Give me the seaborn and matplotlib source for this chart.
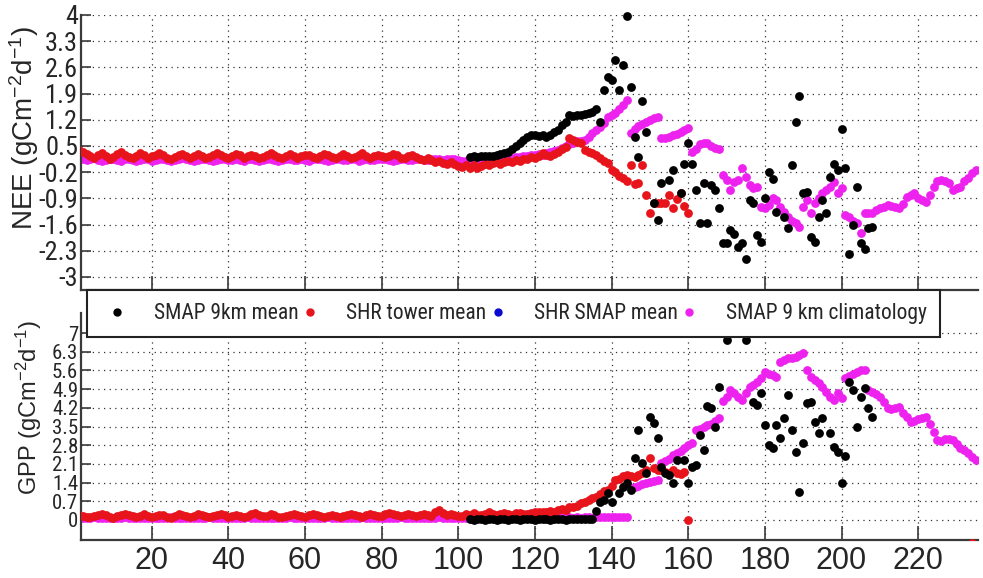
import numpy as np
import pandas as pd
import seaborn as sns
import matplotlib.pyplot as plt
from matplotlib import font_manager as fm
from matplotlib.lines import Line2D

sns.set_style("white")


def find_narrow():
    # a narrow face for the tick labels / legend, if one is installed
    entries = fm.fontManager.ttflist
    for name in ['Liberation Sans Narrow', 'Roboto Condensed', 'Open Sans Condensed',
                 'Noto Sans Condensed', 'DejaVu Sans Condensed']:
        if any(e.name == name for e in entries):
            return name, 'normal', True
    for name in ['DejaVu Sans', 'Noto Sans', 'Roboto', 'Open Sans']:
        if any(e.name == name and str(e.stretch) in ('condensed', 'semi-condensed', 'extra-condensed')
               for e in entries):
            return name, 'condensed', True
    return 'Liberation Sans', 'normal', False


narrow_family, narrow_stretch, has_narrow = find_narrow()
plt.rcParams['font.family'] = [narrow_family, 'DejaVu Sans']
plt.rcParams['font.stretch'] = narrow_stretch
plt.rcParams['mathtext.fontset'] = 'custom'
plt.rcParams['mathtext.rm'] = 'Liberation Sans'
plt.rcParams['mathtext.it'] = 'Liberation Sans:italic'
plt.rcParams['mathtext.bf'] = 'Liberation Sans:bold'

# ---------------- data ----------------
# SHR tower mean, days 1-160
red_nee = [
    0.40, 0.33, 0.28, 0.22, 0.18, 0.26, 0.31, 0.24, 0.15, 0.20,
    0.28, 0.33, 0.27, 0.21, 0.17, 0.23, 0.30, 0.26, 0.19, 0.22,
    0.27, 0.31, 0.25, 0.18, 0.14, 0.20, 0.26, 0.29, 0.24, 0.19,
    0.23, 0.28, 0.22, 0.17, 0.21, 0.27, 0.32, 0.26, 0.20, 0.18,
    0.24, 0.29, 0.25, 0.19, 0.22, 0.27, 0.23, 0.18, 0.21, 0.26,
    0.30, 0.25, 0.20, 0.17, 0.22, 0.28, 0.24, 0.19, 0.23, 0.27,
    0.25, 0.20, 0.18, 0.23, 0.29, 0.26, 0.21, 0.19, 0.24, 0.28,
    0.22, 0.18, 0.21, 0.26, 0.30, 0.24, 0.19, 0.22, 0.27, 0.23,
    0.20, 0.24, 0.28, 0.25, 0.19, 0.17, 0.22, 0.26, 0.21, 0.16,
    0.13, 0.18, 0.12, 0.08, 0.10, 0.05, 0.02, 0.06, 0.01, -0.03,
    -0.05, 0.00, -0.08, -0.02, -0.10, -0.04, 0.02, -0.01, 0.05, 0.08,
    0.03, 0.06, 0.10, 0.07, 0.13, 0.11, 0.16, 0.14, 0.20, 0.17,
    0.24, 0.30, 0.26, 0.22, 0.28, 0.35, 0.42, 0.48, 0.71, 0.66,
    0.60, 0.57, 0.40, 0.35, 0.30, 0.27, 0.18, 0.10, 0.04, -0.14,
    -0.20, -0.30, -0.36, -0.44, 0.00, -0.53, -0.49, 0.00, -0.80, -1.29,
    -1.02, -1.02, -1.02, -1.02, -0.80, -1.16, -0.93, -0.76, -1.10, -1.29,
]
red_gpp = [
    0.20, 0.15, 0.12, 0.10, 0.14, 0.18, 0.22, 0.17, 0.12, 0.09,
    0.13, 0.19, 0.24, 0.18, 0.13, 0.10, 0.15, 0.21, 0.16, 0.11,
    0.14, 0.20, 0.17, 0.12, 0.09, 0.15, 0.22, 0.19, 0.13, 0.11,
    0.16, 0.21, 0.18, 0.14, 0.10, 0.13, 0.19, 0.24, 0.17, 0.12,
    0.15, 0.20, 0.16, 0.11, 0.14, 0.22, 0.25, 0.18, 0.13, 0.16,
    0.21, 0.17, 0.12, 0.10, 0.15, 0.19, 0.23, 0.18, 0.14, 0.12,
    0.17, 0.22, 0.19, 0.13, 0.11, 0.16, 0.20, 0.15, 0.12, 0.14,
    0.19, 0.24, 0.20, 0.15, 0.12, 0.17, 0.21, 0.18, 0.13, 0.16,
    0.22, 0.26, 0.21, 0.17, 0.14, 0.19, 0.23, 0.18, 0.15, 0.20,
    0.24, 0.19, 0.16, 0.30, 0.36, 0.25, 0.18, 0.21, 0.17, 0.14,
    0.15, 0.22, 0.18, 0.25, 0.20, 0.17, 0.24, 0.28, 0.21, 0.19,
    0.23, 0.26, 0.22, 0.20, 0.25, 0.27, 0.23, 0.21, 0.26, 0.29,
    0.28, 0.31, 0.29, 0.34, 0.31, 0.37, 0.41, 0.39, 0.47, 0.49,
    0.54, 0.62, 0.67, 0.74, 0.83, 0.86, 0.98, 1.09, 1.13, 1.29,
    1.50, 1.55, 1.63, 1.69, 1.65, 1.60, 1.69, 1.76, 1.86, 2.31,
    1.94, 1.87, 1.87, 1.81, 1.76, 1.87, 1.75, 1.71, 1.78, 0.00,
    -0.85,
]
red_days = list(range(1, 161))
red_gpp_days = list(range(1, 161)) + [234]

# SMAP 9 km climatology, days 1-235
clim_nee = [
    0.18, 0.15, 0.12, 0.14, 0.17, 0.13, 0.10, 0.12, 0.15, 0.16,
    0.13, 0.11, 0.14, 0.16, 0.12, 0.09, 0.13, 0.15, 0.14, 0.11,
    0.12, 0.15, 0.16, 0.13, 0.10, 0.12, 0.14, 0.17, 0.15, 0.12,
    0.11, 0.13, 0.15, 0.14, 0.12, 0.10, 0.13, 0.16, 0.14, 0.12,
    0.13, 0.15, 0.12, 0.11, 0.14, 0.16, 0.13, 0.11, 0.12, 0.15,
    0.14, 0.12, 0.10, 0.13, 0.15, 0.16, 0.13, 0.12, 0.14, 0.13,
    0.11, 0.14, 0.16, 0.15, 0.12, 0.11, 0.13, 0.15, 0.14, 0.12,
    0.13, 0.16, 0.14, 0.11, 0.12, 0.15, 0.13, 0.12, 0.14, 0.16,
    0.15, 0.12, 0.11, 0.13, 0.15, 0.14, 0.12, 0.13, 0.16, 0.14,
    0.12, 0.13, 0.15, 0.14, 0.16, 0.13, 0.14, 0.15, 0.14, 0.13,
    0.10, 0.11, 0.09, 0.11, 0.10, 0.12, 0.11, 0.13, 0.12, 0.15,
    0.14, 0.17, 0.16, 0.19, 0.21, 0.20, 0.23, 0.22, 0.25, 0.26,
    0.28, 0.27, 0.31, 0.33, 0.36, 0.40, 0.44, 0.49, 0.54, 0.58,
    0.62, 0.64, 0.66, 0.75, 0.85, 0.93, 1.00, 1.12, 1.27, 1.32,
    1.38, 1.48, 1.60, 1.73, 0.84, 0.95, 1.02, 1.10, 1.15, 1.20,
    1.25, 1.27, 0.70, 0.72, 0.75, 0.78, 0.82, 0.86, 0.92, 0.97,
    0.35, 0.42, 0.55, 0.58, 0.57, 0.50, 0.45, 0.42, -0.28, -0.41,
    -0.68, -0.46, -0.41, -0.10, -0.33, -0.55, -0.63, -0.60, -1.13, -1.16,
    -1.08, -0.90, -0.95, -1.13, -1.27, -1.40, -1.50, -1.56, -1.67, -1.13,
    -0.95, -1.30, -1.03, -0.90, -0.77, -0.68, -0.60, -0.46, -0.75, -0.63,
    -1.35, -1.40, -1.50, -1.56, -1.83, -1.30, -1.28, -1.30, -1.22, -1.16,
    -1.12, -1.08, -1.10, -1.13, -1.16, -1.05, -0.86, -0.80, -0.77, -0.88,
    -0.95, -1.00, -0.80, -0.60, -0.45, -0.41, -0.44, -0.50, -0.68, -0.62,
    -0.60, -0.45, -0.36, -0.22, -0.14,
]
clim_gpp = [
    0.08, 0.09, 0.07, 0.08, 0.10, 0.08, 0.07, 0.09, 0.08, 0.07,
    0.09, 0.08, 0.10, 0.08, 0.07, 0.08, 0.09, 0.07, 0.08, 0.09,
    0.08, 0.07, 0.09, 0.08, 0.10, 0.08, 0.07, 0.08, 0.09, 0.08,
    0.07, 0.09, 0.08, 0.08, 0.10, 0.09, 0.07, 0.08, 0.09, 0.08,
    0.08, 0.07, 0.09, 0.08, 0.10, 0.08, 0.07, 0.09, 0.08, 0.07,
    0.09, 0.08, 0.08, 0.07, 0.09, 0.10, 0.08, 0.07, 0.08, 0.09,
    0.08, 0.07, 0.09, 0.08, 0.08, 0.10, 0.08, 0.07, 0.09, 0.08,
    0.07, 0.08, 0.09, 0.08, 0.10, 0.08, 0.07, 0.08, 0.09, 0.08,
    0.08, 0.09, 0.07, 0.08, 0.10, 0.08, 0.07, 0.09, 0.08, 0.09,
    0.08, 0.07, 0.09, 0.08, 0.10, 0.08, 0.09, 0.08, 0.07, 0.09,
    0.08, 0.09, 0.08, 0.10, 0.09, 0.08, 0.09, 0.10, 0.08, 0.09,
    0.09, 0.10, 0.08, 0.09, 0.10, 0.09, 0.08, 0.09, 0.10, 0.09,
    0.09, 0.10, 0.09, 0.08, 0.10, 0.09, 0.10, 0.09, 0.10, 0.09,
    0.10, 0.09, 0.10, 0.10, 0.09, 0.10, 0.10, 0.10, 0.11, 0.10,
    0.10, 0.11, 0.10, 0.10, 1.20, 1.24, 1.28, 1.33, 1.38, 1.43,
    1.47, 1.50, 2.13, 2.20, 2.30, 2.42, 2.50, 2.60, 2.70, 2.80,
    2.90, 3.37, 3.42, 3.50, 3.55, 3.60, 3.70, 3.83, 4.45, 4.60,
    4.86, 4.75, 4.60, 4.50, 4.75, 4.98, 5.05, 5.15, 5.30, 5.54,
    5.45, 5.43, 5.35, 5.90, 6.00, 6.05, 6.08, 6.10, 6.18, 6.25,
    5.62, 5.35, 5.25, 5.13, 4.98, 4.80, 4.60, 4.49, 4.74, 4.56,
    5.30, 5.38, 5.45, 5.55, 5.60, 5.62, 4.87, 4.80, 4.70, 4.60,
    4.40, 4.20, 4.15, 4.20, 4.24, 4.00, 3.85, 3.67, 3.70, 3.78,
    3.82, 3.86, 3.60, 3.30, 3.00, 2.95, 3.02, 3.05, 3.00, 2.85,
    2.70, 2.62, 2.50, 2.35, 2.24,
]
clim_days = list(range(1, 236))

# SMAP 9km mean
smap_nee_days = list(range(103, 138)) + [
    138, 139, 140, 141, 142, 143, 144, 145, 146, 147, 148, 149, 151, 152,
    153, 155, 156, 158, 159, 160, 161, 162, 163, 164, 165, 166, 167, 168,
    169, 170, 171, 172, 173, 174, 175, 176, 177, 178, 179, 180, 181, 182,
    183, 185, 186, 187, 188, 189, 190, 191, 192, 193, 194, 195, 196, 197,
    198, 199, 200, 201, 202, 203, 204, 205, 206, 207, 208]
smap_nee = [
    0.21, 0.22, 0.20, 0.23, 0.22, 0.24, 0.22, 0.25, 0.28, 0.30,
    0.34, 0.42, 0.50, 0.57, 0.66, 0.75, 0.78, 0.79, 0.77, 0.78,
    0.75, 0.80, 0.88, 0.92, 1.06, 1.15, 1.33, 1.30, 1.33, 1.32,
    1.35, 1.37, 1.42, 1.50, 1.15,
    2.00, 2.35, 2.26, 2.80, 2.00, 2.66, 3.98, 2.07, 0.75, 0.21, 1.71, 0.88, -1.03, -1.48,
    -0.50, -0.41, -0.14, -0.77, 0.03, 0.57, 0.03, -0.68, -1.57, -0.50, -1.57, -0.55, -0.68, -1.17,
    -2.10, -2.10, -1.75, -1.84, -2.20, -2.10, -2.53, -0.95, -1.03, -1.88, -2.06, -0.90, -0.19, -0.37,
    -1.26, -1.39, -1.70, -0.01, 1.15, 1.83, -0.77, -0.72, -1.93, -2.06, -1.39, -0.95, -1.30, -0.32,
    0.03, -0.14, 0.95, -0.10, -2.39, -1.61, -0.59, -2.10, -2.26, -1.70, -1.66,
]
smap_gpp_days = list(range(103, 137)) + [
    137, 138, 139, 140, 142, 143, 144, 145, 146, 147, 148, 149, 150, 151,
    152, 153, 154, 155, 156, 157, 159, 160, 161, 162, 163, 164, 165, 166,
    167, 168, 170, 175, 177, 178, 179, 180, 181, 182, 183, 184, 185, 186,
    187, 188, 189, 190, 191, 192, 193, 194, 195, 197, 198, 199, 200, 201,
    202, 203, 204, 205, 206, 207, 208]
smap_gpp = [
    0.02, 0.01, 0.03, 0.02, 0.01, 0.02, 0.03, 0.01, 0.02, 0.02,
    0.01, 0.03, 0.02, 0.01, 0.02, 0.03, 0.02, 0.01, 0.02, 0.03,
    0.02, 0.01, 0.02, 0.03, 0.02, 0.01, 0.02, 0.03, 0.02, 0.04,
    0.03, 0.05, 0.05, 0.35,
    0.68, 0.74, 1.00, 0.68, 1.00, 1.25, 1.37, 1.13, 2.32, 3.37, 2.12, 1.75, 3.87, 3.62,
    3.06, 2.00, 1.75, 1.68, 1.37, 2.24, 2.24, 1.37, 2.00, 2.07, 3.18, 2.63, 4.25, 4.19,
    3.49, 4.99, 6.74, 6.74, 4.43, 4.31, 4.74, 3.56, 2.81, 2.69, 3.56, 3.06, 3.80, 4.68,
    3.37, 2.56, 1.06, 2.87, 4.37, 4.43, 3.68, 3.25, 3.80, 3.25, 2.75, 2.56, 1.37, 2.38,
    5.16, 4.87, 3.49, 4.62, 4.93, 4.19, 3.87,
]

series_names = ['SMAP 9km mean', 'SHR tower mean', 'SHR SMAP mean', 'SMAP 9 km climatology']
series_colors = ['#000000', '#e8141b', '#0a0ad0', '#ee22ee']

nee_ticks = [-3, -2.3, -1.6, -0.9, -0.2, 0.5, 1.2, 1.9, 2.6, 3.3, 4]
gpp_ticks = [0, 0.7, 1.4, 2.1, 2.8, 3.5, 4.2, 4.9, 5.6, 6.3, 7]
day_ticks = [20, 40, 60, 80, 100, 120, 140, 160, 180, 200, 220]

nee_tick_size = 19 if has_narrow else 15
gpp_tick_size = 15 if has_narrow else 12
legend_size = 15.5 if has_narrow else 12.5
wide = ['Liberation Sans', 'DejaVu Sans']

# ---------------- figure ----------------
W, H = 983, 578
fig = plt.figure(figsize=(W / 100, H / 100), dpi=100)
ax1 = fig.add_axes([81 / W, 1 - 290 / H, 897 / W, 275 / H])
ax2 = fig.add_axes([81 / W, 1 - 540 / H, 897 / W, 227 / H])

msize = 40
panels = [
    (ax1, red_days, red_nee, clim_nee, smap_nee_days, smap_nee),
    (ax2, red_gpp_days, red_gpp, clim_gpp, smap_gpp_days, smap_gpp),
]
for ax, rd, rv, cv, sd, sv in panels:
    sns.scatterplot(x=clim_days, y=cv, ax=ax, color=series_colors[3], s=msize,
                    linewidth=0, zorder=2, legend=False)
    sns.scatterplot(x=rd, y=rv, ax=ax, color=series_colors[1], s=msize,
                    linewidth=0, zorder=3, legend=False)
    sns.scatterplot(x=sd, y=sv, ax=ax, color=series_colors[0], s=msize,
                    linewidth=0, zorder=4, legend=False, clip_on=(ax is ax2))

ax1.set_ylim(-3.35, 4)
ax2.set_ylim(-0.75, 7.75)
ax1.set_yticks(nee_ticks)
ax1.set_yticklabels([f"{t:g}" for t in nee_ticks])
ax2.set_yticks(gpp_ticks)
ax2.set_yticklabels([f"{t:g}" for t in gpp_ticks])

for ax, tsize in ((ax1, nee_tick_size), (ax2, gpp_tick_size)):
    ax.set_xlim(1.55, 235.6)
    ax.set_xticks(day_ticks)
    ax.set_xlabel('')
    ax.set_ylabel('')
    ax.set_facecolor('white')
    ax.grid(True, linestyle=(0, (1, 3.5)), color='#333333', linewidth=0.9)
    ax.set_axisbelow(True)
    for side in ('top', 'right'):
        ax.spines[side].set_visible(False)
    for side in ('left', 'bottom'):
        ax.spines[side].set_color('#3a3a3a')
        ax.spines[side].set_linewidth(1.6)
    ax.tick_params(axis='y', direction='in', length=7, width=1.2, color='#3a3a3a',
                   labelsize=tsize, pad=2, left=True)
    ax.tick_params(axis='x', direction='in', length=10, width=1.2, color='#3a3a3a',
                   bottom=True)

ax1.tick_params(axis='x', labelbottom=False)
ax2.set_xticklabels([str(d) for d in day_ticks], fontfamily=wide, fontsize=22,
                    fontstretch='normal')
ax2.tick_params(axis='x', pad=4)

fig.text(24 / W, 1 - 128 / H, 'NEE (gCm$^{-2}$d$^{-1}$)', rotation=90,
         ha='center', va='center', fontsize=20, family=wide, stretch='normal')
fig.text(29 / W, 1 - 407 / H, 'GPP (gCm$^{-2}$d$^{-1}$)', rotation=90,
         ha='center', va='center', fontsize=17, family=wide, stretch='normal')

handles = [Line2D([], [], linestyle='none', marker='o', markersize=5,
                  markerfacecolor=c, markeredgecolor=c) for c in series_colors]
leg = fig.legend(handles, series_names, loc='lower left',
                 bbox_to_anchor=(87 / W, 1 - 337 / H, 853 / W, 49 / H),
                 mode='expand', ncol=4, frameon=True, fancybox=False,
                 framealpha=1, edgecolor='#222222', fontsize=legend_size,
                 handlelength=1.6, handletextpad=0.9, borderaxespad=0,
                 borderpad=0.6)
leg.get_frame().set_linewidth(1.5)

fig.savefig('out.png', dpi=100, facecolor='white')
